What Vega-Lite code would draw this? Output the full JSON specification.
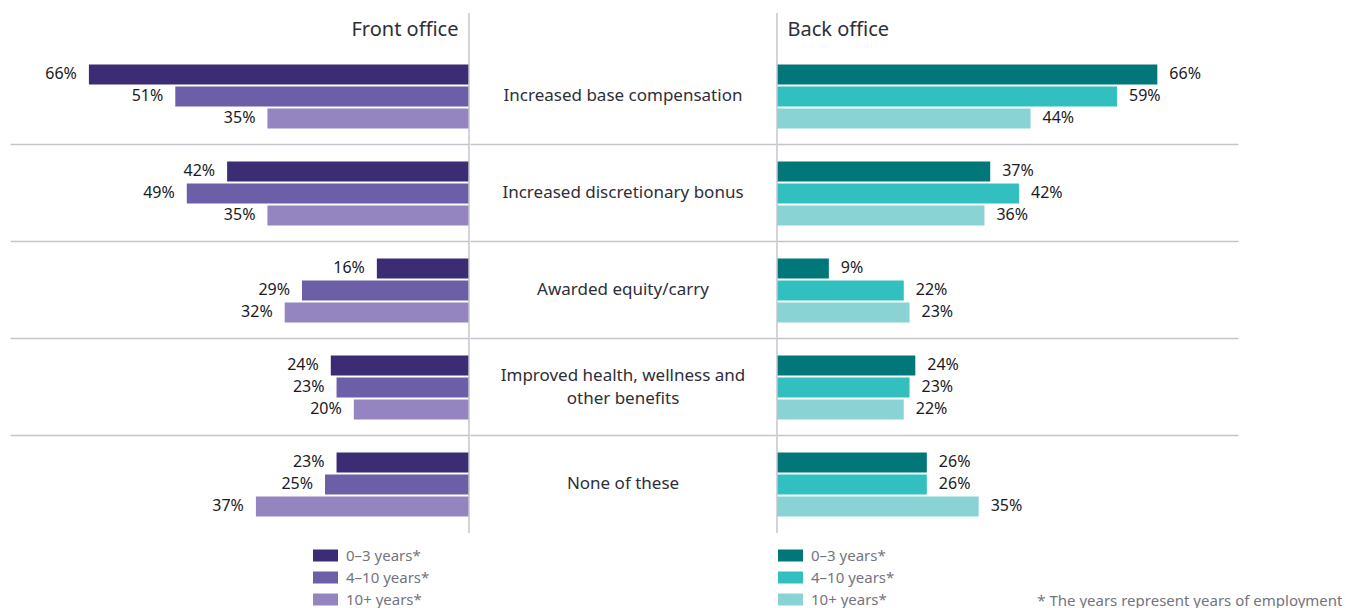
{
  "$schema": "https://vega.github.io/schema/vega-lite/v6.json",
  "padding": {"left": 10, "top": 12, "right": 0, "bottom": 0},
  "background": "white",
  "spacing": 0,
  "config": {
    "view": {"stroke": null},
    "font": "Noto Sans",
    "concat": {"spacing": 0},
    "axis": {"gridColor": "#c4c4cd", "gridWidth": 1.5}
  },
  "datasets": {
    "bars": [
      {"category": "Increased base compensation", "office": "Front office", "tenure": "0–3 years*", "value": 0.66},
      {"category": "Increased base compensation", "office": "Front office", "tenure": "4–10 years*", "value": 0.51},
      {"category": "Increased base compensation", "office": "Front office", "tenure": "10+ years*", "value": 0.35},
      {"category": "Increased discretionary bonus", "office": "Front office", "tenure": "0–3 years*", "value": 0.42},
      {"category": "Increased discretionary bonus", "office": "Front office", "tenure": "4–10 years*", "value": 0.49},
      {"category": "Increased discretionary bonus", "office": "Front office", "tenure": "10+ years*", "value": 0.35},
      {"category": "Awarded equity/carry", "office": "Front office", "tenure": "0–3 years*", "value": 0.16},
      {"category": "Awarded equity/carry", "office": "Front office", "tenure": "4–10 years*", "value": 0.29},
      {"category": "Awarded equity/carry", "office": "Front office", "tenure": "10+ years*", "value": 0.32},
      {"category": "Improved health, wellness and\nother benefits", "office": "Front office", "tenure": "0–3 years*", "value": 0.24},
      {"category": "Improved health, wellness and\nother benefits", "office": "Front office", "tenure": "4–10 years*", "value": 0.23},
      {"category": "Improved health, wellness and\nother benefits", "office": "Front office", "tenure": "10+ years*", "value": 0.20},
      {"category": "None of these", "office": "Front office", "tenure": "0–3 years*", "value": 0.23},
      {"category": "None of these", "office": "Front office", "tenure": "4–10 years*", "value": 0.25},
      {"category": "None of these", "office": "Front office", "tenure": "10+ years*", "value": 0.37},
      {"category": "Increased base compensation", "office": "Back office", "tenure": "0–3 years*", "value": 0.66},
      {"category": "Increased base compensation", "office": "Back office", "tenure": "4–10 years*", "value": 0.59},
      {"category": "Increased base compensation", "office": "Back office", "tenure": "10+ years*", "value": 0.44},
      {"category": "Increased discretionary bonus", "office": "Back office", "tenure": "0–3 years*", "value": 0.37},
      {"category": "Increased discretionary bonus", "office": "Back office", "tenure": "4–10 years*", "value": 0.42},
      {"category": "Increased discretionary bonus", "office": "Back office", "tenure": "10+ years*", "value": 0.36},
      {"category": "Awarded equity/carry", "office": "Back office", "tenure": "0–3 years*", "value": 0.09},
      {"category": "Awarded equity/carry", "office": "Back office", "tenure": "4–10 years*", "value": 0.22},
      {"category": "Awarded equity/carry", "office": "Back office", "tenure": "10+ years*", "value": 0.23},
      {"category": "Improved health, wellness and\nother benefits", "office": "Back office", "tenure": "0–3 years*", "value": 0.24},
      {"category": "Improved health, wellness and\nother benefits", "office": "Back office", "tenure": "4–10 years*", "value": 0.23},
      {"category": "Improved health, wellness and\nother benefits", "office": "Back office", "tenure": "10+ years*", "value": 0.22},
      {"category": "None of these", "office": "Back office", "tenure": "0–3 years*", "value": 0.26},
      {"category": "None of these", "office": "Back office", "tenure": "4–10 years*", "value": 0.26},
      {"category": "None of these", "office": "Back office", "tenure": "10+ years*", "value": 0.35}
    ]
  },
  "hconcat": [
    {
      "width": 459,
      "height": 520,
      "layer": [
        {
          "data": {"name": "bars"},
          "transform": [{"filter": "datum.office === 'Front office'"}],
          "mark": {"type": "bar"},
          "encoding": {
            "y": {"field": "category", "type": "nominal", "sort": ["Increased base compensation", "Increased discretionary bonus", "Awarded equity/carry", "Improved health, wellness and\nother benefits", "None of these"],
              "scale": {"type": "band", "paddingInner": 0, "paddingOuter": 0.1804, "align": 1},
              "axis": {"domain": false, "ticks": false, "labels": false, "title": null, "grid": true, "bandPosition": 0, "values": ["Increased discretionary bonus", "Awarded equity/carry", "Improved health, wellness and\nother benefits", "None of these"]}},
            "yOffset": {"field": "tenure", "sort": ["0–3 years*", "4–10 years*", "10+ years*"], "scale": {"paddingInner": 0.0909, "paddingOuter": 0.75}},
            "x": {"field": "value", "type": "quantitative", "scale": {"domain": [0, 0.797], "reverse": true, "nice": false},
              "axis": {"orient": "top", "domain": false, "ticks": false, "labels": false, "grid": false, "title": "Front office",
                "titleX": 448, "titleY": 22, "titleAlign": "right", "titleBaseline": "alphabetic", "titleAnchor": null,
                "titleFontSize": 20, "titleFontWeight": "normal", "titleColor": "#2e2e38"}},
            "color": {"field": "tenure", "type": "nominal", "sort": ["0–3 years*", "4–10 years*", "10+ years*"],
              "scale": {"domain": ["0–3 years*", "4–10 years*", "10+ years*"], "range": ["#3b2c73", "#6c5fa8", "#9484bf"]},
              "legend": {"title": null, "orient": "none", "legendX": 303, "legendY": 530, "direction": "vertical", "padding": 0,
                "symbolType": "M-1,-0.48H1V0.48H-1Z", "symbolSize": 625, "symbolStrokeWidth": 0, "symbolOpacity": 1,
                "labelFontSize": 15, "labelColor": "#747480", "labelOffset": 8, "rowPadding": 1}}
          }
        },
        {
          "data": {"name": "bars"},
          "transform": [{"filter": "datum.office === 'Front office'"}],
          "mark": {"type": "text", "align": "right", "baseline": "middle", "dx": -12, "fontSize": 16, "color": "#1a1a24"},
          "encoding": {
            "y": {"field": "category", "type": "nominal", "sort": ["Increased base compensation", "Increased discretionary bonus", "Awarded equity/carry", "Improved health, wellness and\nother benefits", "None of these"]},
            "yOffset": {"field": "tenure", "sort": ["0–3 years*", "4–10 years*", "10+ years*"]},
            "x": {"field": "value", "type": "quantitative"},
            "text": {"field": "value", "format": ".0%"}
          }
        },
        {
          "data": {"values": [{"edge": 0}]},
          "mark": {"type": "rule", "color": "#c4c4cd", "strokeWidth": 1.5},
          "encoding": {"x": {"field": "edge", "type": "quantitative"}}
        }
      ]
    },
    {
      "width": 306,
      "height": 520,
      "data": {"name": "bars"},
      "transform": [{"filter": {"and": [{"field": "office", "equal": "Front office"}, {"field": "tenure", "equal": "0–3 years*"}]}}],
      "encoding": {
        "y": {"field": "category", "type": "nominal", "sort": ["Increased base compensation", "Increased discretionary bonus", "Awarded equity/carry", "Improved health, wellness and\nother benefits", "None of these"],
          "scale": {"type": "band", "paddingInner": 0, "paddingOuter": 0.1804, "align": 1},
          "axis": {"domain": false, "ticks": false, "labels": false, "title": null, "grid": true, "bandPosition": 0, "values": ["Increased discretionary bonus", "Awarded equity/carry", "Improved health, wellness and\nother benefits", "None of these"]}},
        "text": {"field": "category"}
      },
      "layer": [
        {
          "transform": [{"filter": {"field": "category", "oneOf": ["Increased base compensation", "Increased discretionary bonus", "Awarded equity/carry", "None of these"]}}],
          "mark": {"type": "text", "align": "center", "baseline": "middle", "fontSize": 17, "color": "#2e2e38"}
        },
        {
          "transform": [{"filter": {"field": "category", "equal": "Improved health, wellness and\nother benefits"}}],
          "mark": {"type": "text", "align": "center", "baseline": "middle", "fontSize": 17, "lineBreak": "\n", "lineHeight": 23, "dy": -11.5, "color": "#2e2e38"}
        }
      ]
    },
    {
      "width": 461,
      "height": 520,
      "resolve": {"scale": {"x": "independent"}, "axis": {"x": "independent"}},
      "layer": [
        {
          "data": {"name": "bars"},
          "transform": [{"filter": "datum.office === 'Back office'"}],
          "mark": {"type": "bar"},
          "encoding": {
            "y": {"field": "category", "type": "nominal", "sort": ["Increased base compensation", "Increased discretionary bonus", "Awarded equity/carry", "Improved health, wellness and\nother benefits", "None of these"],
              "scale": {"type": "band", "paddingInner": 0, "paddingOuter": 0.1804, "align": 1},
              "axis": {"domain": false, "ticks": false, "labels": false, "title": null, "grid": true, "bandPosition": 0, "values": ["Increased discretionary bonus", "Awarded equity/carry", "Improved health, wellness and\nother benefits", "None of these"]}},
            "yOffset": {"field": "tenure", "sort": ["0–3 years*", "4–10 years*", "10+ years*"], "scale": {"paddingInner": 0.0909, "paddingOuter": 0.75}},
            "x": {"field": "value", "type": "quantitative", "scale": {"domain": [0, 0.8], "nice": false},
              "axis": {"orient": "top", "domain": false, "ticks": false, "labels": false, "grid": false, "title": "Back office",
                "titleX": 10, "titleY": 22, "titleAlign": "left", "titleBaseline": "alphabetic", "titleAnchor": null,
                "titleFontSize": 20, "titleFontWeight": "normal", "titleColor": "#2e2e38"}},
            "color": {"field": "tenure", "type": "nominal", "sort": ["0–3 years*", "4–10 years*", "10+ years*"],
              "scale": {"domain": ["0–3 years*", "4–10 years*", "10+ years*"], "range": ["#02777a", "#32bfc0", "#8ad3d4"]},
              "legend": {"title": null, "orient": "none", "legendX": 1, "legendY": 530, "direction": "vertical", "padding": 0,
                "symbolType": "M-1,-0.48H1V0.48H-1Z", "symbolSize": 625, "symbolStrokeWidth": 0, "symbolOpacity": 1,
                "labelFontSize": 15, "labelColor": "#747480", "labelOffset": 8, "rowPadding": 1}}
          }
        },
        {
          "data": {"name": "bars"},
          "transform": [{"filter": "datum.office === 'Back office'"}],
          "mark": {"type": "text", "align": "left", "baseline": "middle", "dx": 12, "fontSize": 16, "color": "#1a1a24"},
          "encoding": {
            "y": {"field": "category", "type": "nominal", "sort": ["Increased base compensation", "Increased discretionary bonus", "Awarded equity/carry", "Improved health, wellness and\nother benefits", "None of these"]},
            "yOffset": {"field": "tenure", "sort": ["0–3 years*", "4–10 years*", "10+ years*"]},
            "x": {"field": "value", "type": "quantitative", "scale": {"domain": [0, 0.8], "nice": false}, "axis": null},
            "text": {"field": "value", "format": ".0%"}
          }
        },
        {
          "data": {"values": [{"edge": 0}]},
          "mark": {"type": "rule", "color": "#c4c4cd", "strokeWidth": 1.5},
          "encoding": {"x": {"field": "edge", "type": "quantitative", "scale": {"domain": [0, 1], "nice": false},
            "axis": {"orient": "bottom", "domain": false, "ticks": false, "labels": false, "grid": false,
              "title": "* The years represent years of employment",
              "titleX": 565, "titleY": 72, "titleAlign": "right", "titleBaseline": "alphabetic", "titleAnchor": null,
              "titleFontSize": 15, "titleFontWeight": "normal", "titleColor": "#747480"}}}
        }
      ]
    }
  ],
  "resolve": {"scale": {"color": "independent"}}
}
